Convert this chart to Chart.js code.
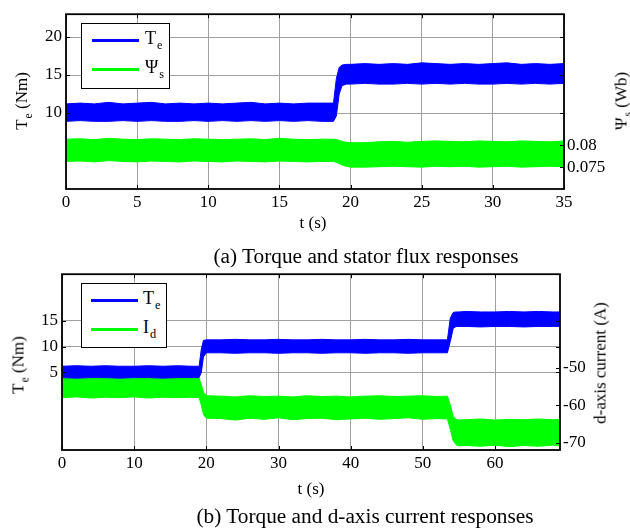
<!DOCTYPE html>
<html>
<head>
<meta charset="utf-8">
<script src="https://cdn.jsdelivr.net/npm/chart.js"></script>
<style>
  html, body { margin:0; padding:0; background:#fff; }
  #wrap { position:relative; width:630px; height:529px; overflow:hidden; font-family:"Liberation Serif","Times New Roman",serif; color:#000; }
  canvas { position:absolute; left:0; }
  .t { position:absolute; white-space:nowrap; line-height:1; }
  .rot { transform:translate(-50%,-50%) rotate(-90deg); }
  .ctr { transform:translate(-50%,-50%); }
  .sub { font-size:0.68em; position:relative; top:0.42em; margin-left:1px; }
  .leg { position:absolute; background:#fff; border:1.5px solid #000; box-sizing:border-box; }
  .legline { position:absolute; height:3px; }
</style>
</head>
<body>
<div id="wrap">
  <canvas id="c1" width="630" height="240" style="top:0"></canvas>
  <canvas id="c2" width="630" height="269" style="top:260px"></canvas>

  <!-- chart (a) texts -->
  <div class="t rot" style="left:21px;top:101px;font-size:17px;">T<span class="sub">e</span> (Nm)</div>
  <div class="t rot" style="left:621px;top:101px;font-size:17px;">Ψ<span class="sub">s</span> (Wb)</div>
  <div class="t ctr" style="left:313px;top:222px;font-size:17px;">t (s)</div>
  <div class="t ctr" style="left:366px;top:257px;font-size:21.3px;">(a) Torque and stator flux responses</div>
  <div class="leg" style="left:81px;top:23px;width:89px;height:66px;">
    <div class="legline" style="left:10px;top:15px;width:47px;background:#0000ff;"></div>
    <div class="legline" style="left:10px;top:44px;width:47px;background:#00ff00;"></div>
    <div class="t" style="left:63px;top:5px;font-size:18px;">T<span class="sub">e</span></div>
    <div class="t" style="left:63px;top:34px;font-size:18px;">Ψ<span class="sub">s</span></div>
  </div>

  <!-- chart (b) texts -->
  <div class="t rot" style="left:18px;top:365px;font-size:17px;">T<span class="sub">e</span> (Nm)</div>
  <div class="t rot" style="left:600px;top:363px;font-size:17px;">d-axis current (A)</div>
  <div class="t ctr" style="left:311px;top:488px;font-size:17px;">t (s)</div>
  <div class="t ctr" style="left:365px;top:517px;font-size:21.3px;">(b) Torque and d-axis current responses</div>
  <div class="leg" style="left:81px;top:283px;width:86px;height:65px;">
    <div class="legline" style="left:9px;top:15px;width:47px;background:#0000ff;"></div>
    <div class="legline" style="left:9px;top:44px;width:47px;background:#00ff00;"></div>
    <div class="t" style="left:61px;top:5px;font-size:18px;">T<span class="sub">e</span></div>
    <div class="t" style="left:61px;top:34px;font-size:18px;">I<span class="sub">d</span></div>
  </div>
</div>
<script>
// ---------------- DATA: chart (a) ----------------
const tA = [0,1,2,3,4,5,6,7,8,9,10,11,12,13,14,15,16,17,18,18.8,19.0,19.2,19.4,19.7,20,21,22,23,24,25,26,27,28,29,30,31,32,33,34,35];
const teUpperA = [11.2,11.3,11.2,11.4,11.2,11.3,11.4,11.2,11.3,11.2,11.3,11.2,11.3,11.4,11.2,11.3,11.2,11.3,11.3,
                  11.3,14.5,16.0,16.3,16.4,
                  16.4,16.5,16.4,16.5,16.4,16.6,16.5,16.4,16.5,16.4,16.5,16.6,16.4,16.5,16.4,16.5];
const teLowerA = [8.9,9.0,8.9,8.9,9.0,8.9,9.0,8.9,8.9,9.0,8.9,9.0,8.9,9.0,8.9,9.0,8.9,9.0,8.9,
                  8.9,9.6,12.5,13.6,13.8,
                  13.8,13.9,13.8,13.8,13.9,13.8,13.9,13.8,13.9,13.8,13.8,13.9,13.8,13.9,13.8,13.9];
const psiUpperA = [0.0814,0.0815,0.0813,0.0816,0.0814,0.0813,0.0815,0.0814,0.0813,0.0815,0.0814,0.0813,0.0814,0.0815,0.0813,0.0816,0.0814,0.0813,0.0814,
                   0.0814,0.0813,0.0811,0.0809,0.0807,
                   0.0806,0.0806,0.0808,0.0809,0.0807,0.0809,0.0810,0.0809,0.0808,0.0810,0.0809,0.0808,0.0810,0.0809,0.0808,0.0810];
const psiLowerA = [0.0763,0.0764,0.0762,0.0765,0.0763,0.0762,0.0764,0.0763,0.0762,0.0764,0.0763,0.0762,0.0764,0.0763,0.0762,0.0764,0.0763,0.0762,0.0763,
                   0.0763,0.0761,0.0758,0.0755,0.0752,
                   0.0750,0.0750,0.0751,0.0752,0.0751,0.0750,0.0752,0.0751,0.0752,0.0750,0.0751,0.0752,0.0750,0.0751,0.0752,0.0751];
const xTicksA = [0,5,10,15,20,25,30,35];
const yLeftTicksA = [10,15,20];
const yRightTicksA = [0.075,0.08];

// ---------------- DATA: chart (b) ----------------
const tB = [0,2,4,6,8,10,12,14,16,18,19,19.3,19.6,20,22,24,26,28,30,32,34,36,38,40,42,44,46,48,50,52,53.4,53.8,54.2,54.6,55,56,58,60,62,64,66,68,69];
const teUpperB = [6.2,6.3,6.2,6.3,6.2,6.2,6.3,6.2,6.3,6.2,
                  6.2,9.5,11.2,11.3,
                  11.3,11.4,11.3,11.3,11.4,11.3,11.3,11.4,11.3,11.3,11.4,11.3,11.3,11.4,11.3,11.3,
                  11.3,15.5,16.6,16.7,16.7,
                  16.8,16.7,16.7,16.8,16.7,16.8,16.7,
                  16.7];
const teLowerB = [4.0,3.9,4.0,4.0,3.9,4.0,4.0,3.9,4.0,4.0,
                  4.0,5.0,8.0,8.8,
                  8.8,8.7,8.8,8.8,8.7,8.8,8.8,8.7,8.8,8.8,8.7,8.8,8.8,8.7,8.8,8.8,
                  8.8,11.0,13.5,13.9,13.9,
                  13.9,13.8,13.9,13.9,13.8,13.9,13.9,
                  13.9];
const idUpperB = [-52.8,-52.6,-52.9,-52.7,-52.6,-52.8,-52.5,-52.8,-52.6,-52.7,
                  -52.8,-54.5,-56.5,-57.5,
                  -57.6,-57.8,-57.5,-57.7,-57.6,-57.8,-57.5,-57.7,-57.6,-57.8,-57.6,-57.5,-57.7,-57.6,-57.5,-57.7,
                  -57.6,-60.0,-63.0,-63.8,-64.0,
                  -63.9,-63.7,-64.0,-63.8,-63.9,-63.7,-63.9,
                  -63.8];
const idLowerB = [-58.0,-57.8,-58.1,-57.9,-58.0,-57.8,-58.1,-57.9,-58.0,-57.9,
                  -58.0,-60.0,-62.5,-63.5,
                  -63.6,-64.0,-63.5,-63.8,-63.4,-63.9,-63.6,-63.5,-63.9,-63.7,-63.5,-63.8,-63.6,-63.4,-63.8,-63.6,
                  -63.7,-66.5,-69.5,-70.6,-70.9,
                  -70.8,-71.0,-70.7,-71.1,-70.8,-71.0,-70.7,
                  -70.9];
const xTicksB = [0,10,20,30,40,50,60];
const yLeftTicksB = [5,10,15];
const yRightTicksB = [-70,-60,-50];

// ---------------- helpers ----------------
const BLUE = '#0000ff', GREEN = '#00ff00';
const FONT = {family:'"Liberation Serif","Times New Roman",serif', size:17};
const GRID = '#a0a0a0';

function pts(t, v){ return t.map((x,i)=>({x:x, y:v[i]})); }
function band(t, up, lo, color, axis){
  return [
    {data:pts(t,up), yAxisID:axis, borderColor:color, backgroundColor:color, borderWidth:1, pointRadius:0, fill:'+1', tension:0},
    {data:pts(t,lo), yAxisID:axis, borderColor:color, backgroundColor:color, borderWidth:1, pointRadius:0, fill:false, tension:0}
  ];
}
function setTicks(arr){ return function(scale){ scale.ticks = arr.map(v=>({value:v})); }; }

const framePlugin = {
  id:'frame',
  afterDatasetsDraw(chart){
    const {ctx, chartArea:a, scales} = chart;
    ctx.save();
    ctx.strokeStyle = '#000';
    ctx.lineWidth = 1;
    ctx.beginPath();
    const L = 4;
    scales.x.ticks.forEach(t=>{
      const px = Math.round(scales.x.getPixelForValue(t.value))+0.5;
      ctx.moveTo(px, a.bottom); ctx.lineTo(px, a.bottom-L);
      ctx.moveTo(px, a.top); ctx.lineTo(px, a.top+L);
    });
    scales.y.ticks.forEach(t=>{
      const py = Math.round(scales.y.getPixelForValue(t.value))+0.5;
      ctx.moveTo(a.left, py); ctx.lineTo(a.left+L, py);
      ctx.moveTo(a.right, py); ctx.lineTo(a.right-L, py);
    });
    scales.y1.ticks.forEach(t=>{
      const py = Math.round(scales.y1.getPixelForValue(t.value))+0.5;
      ctx.moveTo(a.right, py); ctx.lineTo(a.right-L, py);
    });
    ctx.stroke();
    ctx.lineWidth = 1.8;
    ctx.strokeRect(a.left, a.top, a.right-a.left, a.bottom-a.top);
    ctx.restore();
  }
};

function makeChart(id, cfg){
  return new Chart(document.getElementById(id), {
    type:'line',
    data:{datasets:cfg.datasets},
    options:{
      responsive:false, animation:false, events:[],
      layout:{padding:{top:cfg.padTop, bottom:0, left:0, right:0}},
      plugins:{legend:{display:false}, tooltip:{enabled:false}},
      scales:{
        x:{type:'linear', min:cfg.xMin, max:cfg.xMax,
           afterBuildTicks:setTicks(cfg.xTicks),
           afterFit(s){ s.height = cfg.xH; },
           grid:{color:GRID, lineWidth:1, drawTicks:false},
           border:{display:false},
           ticks:{font:FONT, color:'#000', padding:3, autoSkip:false, maxRotation:0, callback:v=>String(v)}},
        y:{type:'linear', position:'left', min:cfg.yMin, max:cfg.yMax,
           afterBuildTicks:setTicks(cfg.yTicks),
           afterFit(s){ s.width = cfg.yW; },
           grid:{color:GRID, lineWidth:1, drawTicks:false},
           border:{display:false},
           ticks:{font:FONT, color:'#000', padding:4, autoSkip:false, callback:v=>String(v)}},
        y1:{type:'linear', position:'right', min:cfg.y1Min, max:cfg.y1Max,
           afterBuildTicks:setTicks(cfg.y1Ticks),
           afterFit(s){ s.width = cfg.y1W; },
           grid:{display:false, drawTicks:false},
           border:{display:false},
           ticks:{font:FONT, color:'#000', padding:3, autoSkip:false, callback:v=>String(v)}}
      }
    },
    plugins:[framePlugin]
  });
}

makeChart('c1', {
  datasets:[...band(tA, teUpperA, teLowerA, BLUE, 'y'), ...band(tA, psiUpperA, psiLowerA, GREEN, 'y1')],
  padTop:11, xH:51, yW:66, y1W:66,
  xMin:0, xMax:35, xTicks:xTicksA,
  yMin:0, yMax:23, yTicks:yLeftTicksA,
  y1Min:0.07, y1Max:0.11, y1Ticks:yRightTicksA
});

makeChart('c2', {
  datasets:[...band(tB, teUpperB, teLowerB, BLUE, 'y'), ...band(tB, idUpperB, idLowerB, GREEN, 'y1')],
  padTop:13, xH:79, yW:62, y1W:70,
  xMin:0, xMax:69, xTicks:xTicksB,
  yMin:-10, yMax:24, yTicks:yLeftTicksB,
  y1Min:-72, y1Max:-25, y1Ticks:yRightTicksB
});
</script>
</body>
</html>
